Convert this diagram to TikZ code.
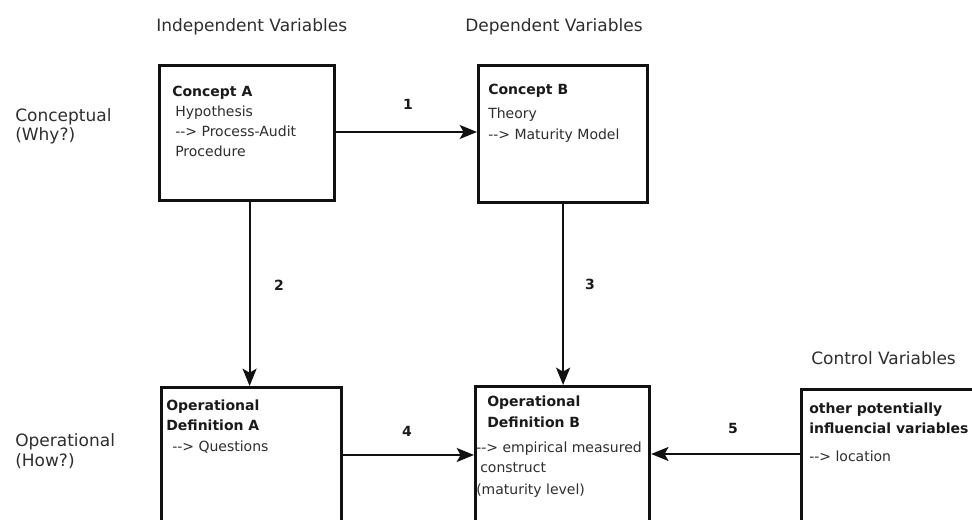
\documentclass[tikz,border=0pt]{standalone}
\usepackage{fontspec}
\setmainfont{DejaVu Sans}
\usetikzlibrary{arrows.meta}
\definecolor{ink}{HTML}{2E2E2E}
\definecolor{inkbold}{HTML}{1A1A1A}
\definecolor{frame}{HTML}{111111}
\begin{document}
\begin{tikzpicture}[x=0.75pt,y=-0.75pt,
  box/.style={draw=frame, line width=2.4pt, anchor=north west, inner sep=0pt, fill=none},
  head/.style={anchor=base west, inner sep=0pt, text=ink, font=\fontsize{12.75}{15}\selectfont},
  txt/.style={anchor=base west, inner sep=0pt, text=ink, font=\fontsize{10.5}{13}\selectfont},
  btxt/.style={anchor=base west, inner sep=0pt, text=inkbold, font=\fontsize{10.5}{13}\selectfont\bfseries},
  num/.style={inner sep=0pt, text=inkbold, font=\fontsize{10.5}{13}\selectfont\bfseries},
  link/.style={draw=frame, line width=1.6pt, -{Stealth[length=13pt,width=10.5pt,inset=3pt]}}]
\clip (0,0) rectangle (972,520);
\fill[white] (0,0) rectangle (972,520);

% column and row headings
\node[head] (hInd) at (156,32) {Independent Variables};
\node[head] (hDep) at (465,32) {Dependent Variables};
\node[head] (hCtl) at (811,365) {Control Variables};
\node[head] (rConA) at (15,122) {Conceptual};
\node[head] (rConB) at (15,141) {(Why?)};
\node[head] (rOpA) at (15,447) {Operational};
\node[head] (rOpB) at (15,467) {(How?)};

% boxes
\node[box, minimum width=175*0.75pt, minimum height=135*0.75pt] (A) at (158,64) {};
\node[box, minimum width=169*0.75pt, minimum height=137*0.75pt] (B) at (477,64) {};
\node[box, minimum width=180*0.75pt, minimum height=200*0.75pt] (OA) at (160,386) {};
\node[box, minimum width=174*0.75pt, minimum height=200*0.75pt] (OB) at (474,385) {};
\node[box, minimum width=250*0.75pt, minimum height=200*0.75pt] (C) at (800,388) {};

% box contents
\node[btxt] (a1) at (172,97) {Concept A};
\node[txt] (a2) at (175,117) {Hypothesis};
\node[txt] (a3) at (175,137) {{-}{-}> Process-Audit};
\node[txt] (a4) at (175,157) {Procedure};

\node[btxt] (b1) at (488,95) {Concept B};
\node[txt] (b2) at (488,119) {Theory};
\node[txt] (b3) at (488,140) {{-}{-}> Maturity Model};

\node[btxt] (oa1) at (166,411) {Operational};
\node[btxt] (oa2) at (166,431) {Definition A};
\node[txt] (oa3) at (172,451) {{-}{-}> Questions};

\node[btxt] (ob1) at (487,407) {Operational};
\node[btxt] (ob2) at (487,428) {Definition B};
\node[txt] (ob3) at (476,453) {{-}{-}> empirical measured};
\node[txt] (ob4) at (480,473) {construct};
\node[txt] (ob5) at (476,494) {(maturity level)};

\node[btxt] (c1) at (809,414) {other potentially};
\node[btxt] (c2) at (809,434) {influencial variables};
\node[txt] (c3) at (809,462) {{-}{-}> location};

% connectors
\draw[link] (A.east |- 0,132) -- (B.west |- 0,132);
\draw[link] ([xshift=2.5*0.75pt]A.south) -- ([xshift=2.5*0.75pt]A.south |- OA.north);
\draw[link] (B.south) -- (B.south |- OB.north);
\draw[link] (OA.east |- 0,455) -- (OB.west |- 0,455);
\draw[link] (C.west |- 0,454) -- (OB.east |- 0,454);

% connector numbers
\node[num] (n1) at (408,104) {1};
\node[num] (n2) at (279,285) {2};
\node[num] (n3) at (590,284) {3};
\node[num] (n4) at (407,431) {4};
\node[num] (n5) at (733,428) {5};
\end{tikzpicture}
\end{document}
